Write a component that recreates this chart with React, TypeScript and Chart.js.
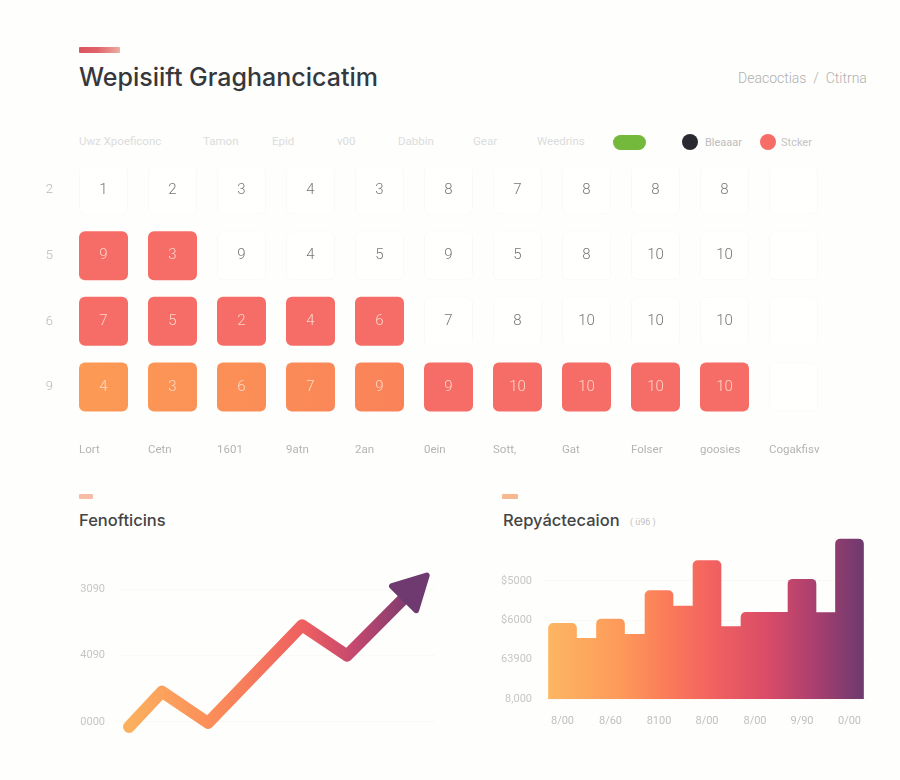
import React, { useEffect, useRef } from "react";
import { Chart, registerables } from "chart.js";

Chart.register(...registerables);

const FONT = "Roboto, 'Liberation Sans', sans-serif";
const HEAD_FONT = "Inter, 'Liberation Sans', sans-serif";

// ---------- heat grid ----------
const gridColumns = ["Lort", "Cetn", "1601", "9atn", "2an", "0ein", "Sott,", "Gat", "Folser", "goosies", "Cogakfisv"];
const gridRowLabels = ["2", "5", "6", "9"];
const gridValuesRow0 = [1, 2, 3, 4, 3, 8, 7, 8, 8, 8, null];
const gridValuesRow1 = [9, 3, 9, 4, 5, 9, 5, 8, 10, 10, null];
const gridValuesRow2 = [7, 5, 2, 4, 6, 7, 8, 10, 10, 10, null];
const gridValuesRow3 = [4, 3, 6, 7, 9, 9, 10, 10, 10, 10, null];
const gridToneRow0 = [0, 0, 0, 0, 0, 0, 0, 0, 0, 0, 0];
const gridToneRow1 = [1, 1, 0, 0, 0, 0, 0, 0, 0, 0, 0];
const gridToneRow2 = [1, 1, 1, 1, 1, 0, 0, 0, 0, 0, 0];
const gridToneRow3 = [2, 2, 2, 2, 2, 1, 1, 1, 1, 1, 0];
const gridValues = [gridValuesRow0, gridValuesRow1, gridValuesRow2, gridValuesRow3];
const gridTones = [gridToneRow0, gridToneRow1, gridToneRow2, gridToneRow3];

const topLabels = ["Uwz Xpoeficonc", "Tamon", "Epid", "v00", "Dabbin", "Gear", "Weedrins"];
const topLabelLefts = [79, 203, 272, 337, 398, 473, 537];

// ---------- line ----------
const lineX = [9, 42, 88, 182, 227, 282];
const lineY = [-300, 1820, -60, 5820, 4000, 7330];
const lineTicks = [0, 4000, 8000];
const lineTickLabels = ["0000", "4090", "3090"];

// ---------- bars ----------
const wideX = [17.5, 65.5, 114, 162, 210, 257, 304.5];
const wideY = [3920, 4030, 4750, 5510, 4200, 5040, 6060];
const narrowX = [41.7, 89.5, 138, 186, 233, 281];
const narrowY = [3540, 3640, 4360, 3840, 4200, 4190];
const barTicks = [2000, 3000, 4000, 5000];
const barTickLabels = ["8,000", "63900", "$6000", "$5000"];
const barXLabels = ["8/00", "8/60", "8100", "8/00", "8/00", "9/90", "0/00"];

const RED = "#f66c66";

const noPad = (s: any) => {
  s.paddingLeft = 0;
  s.paddingRight = 0;
  s.paddingTop = 0;
  s.paddingBottom = 0;
};

const cellTextPlugin = {
  id: "cellText",
  afterDatasetsDraw(chart: any) {
    const { ctx } = chart;
    ctx.save();
    ctx.textAlign = "center";
    ctx.textBaseline = "middle";
    ctx.font = `300 15px ${FONT}`;
    chart.data.datasets.forEach((_: any, r: number) => {
      chart.getDatasetMeta(r).data.forEach((el: any, c: number) => {
        const v = gridValues[r][c];
        if (v === null) return;
        const p = el.getCenterPoint();
        ctx.fillStyle = gridTones[r][c] === 0 ? "#777777" : "rgba(255,225,212,0.9)";
        ctx.fillText(String(v), p.x, p.y);
      });
    });
    ctx.restore();
  },
};

const arrowHeadPlugin = {
  id: "arrowHead",
  afterDatasetsDraw(chart: any) {
    const pts = chart.getDatasetMeta(0).data;
    const a = pts[pts.length - 2];
    const b = pts[pts.length - 1];
    const ang = Math.atan2(b.y - a.y, b.x - a.x);
    const { ctx } = chart;
    const len = 32;
    const half = 17;
    const inset = 3;
    ctx.save();
    ctx.translate(b.x, b.y);
    ctx.rotate(ang);
    ctx.beginPath();
    ctx.moveTo(inset, -half);
    ctx.lineTo(inset + len, 0);
    ctx.lineTo(inset, half);
    ctx.closePath();
    ctx.fillStyle = "#6e3a6f";
    ctx.strokeStyle = "#6e3a6f";
    ctx.lineJoin = "round";
    ctx.lineWidth = 6;
    ctx.fill();
    ctx.stroke();
    ctx.restore();
  },
};

function useChart(build: (c: HTMLCanvasElement) => any) {
  const ref = useRef<HTMLCanvasElement | null>(null);
  useEffect(() => {
    const chart = build(ref.current as HTMLCanvasElement);
    return () => chart.destroy();
  }, []);
  return ref;
}

function buildGrid(canvas: HTMLCanvasElement) {
  const half = 0.3735;
  return new Chart(canvas, {
    type: "bar",
    data: {
      labels: gridColumns,
      datasets: gridValues.map((vals, r) => ({
        label: gridRowLabels[r],
        data: vals.map(() => [r - half, r + half]),
        grouped: false,
        barPercentage: 49 / 69,
        categoryPercentage: 1,
        borderRadius: 6,
        borderSkipped: false,
        borderWidth: (ctx: any) => (gridTones[r][ctx.dataIndex] === 0 ? 1 : 0),
        borderColor: "#faf9f6",
        backgroundColor: (ctx: any) => {
          const tone = gridTones[r][ctx.dataIndex];
          if (tone === 0) return "#fffffe";
          if (tone === 1) return RED;
          const area = ctx.chart.chartArea;
          if (!area) return "#fb8f57";
          const g = ctx.chart.ctx.createLinearGradient(area.left + 10, 0, area.left + 334, 0);
          g.addColorStop(0, "#fc9b55");
          g.addColorStop(1, "#fa8259");
          return g;
        },
      })),
    } as any,
    options: {
      animation: false,
      responsive: false,
      layout: { padding: { top: 7.2, right: 12, left: 0, bottom: 0 } },
      plugins: { legend: { display: false }, tooltip: { enabled: false } },
      scales: {
        x: {
          grid: { display: false, drawTicks: false },
          border: { display: false },
          afterFit: (s: any) => { s.height = 40.2; noPad(s); },
          ticks: {
            autoSkip: false, maxRotation: 0, minRotation: 0,
            align: "start", labelOffset: -24.5, padding: 23,
            color: "#b4b4b4", font: { family: FONT, size: 11.5 },
          },
        },
        y: {
          type: "linear", reverse: true, min: -0.5, max: 3.5,
          grid: { display: false, drawTicks: false },
          border: { display: false },
          afterFit: (s: any) => { s.width = 39; noPad(s); },
          afterBuildTicks: (s: any) => { s.ticks = gridRowLabels.map((_, i) => ({ value: i })); },
          ticks: {
            padding: 16, color: "#b8b8b8", font: { family: FONT, size: 13, weight: 300 },
            callback: (v: any) => gridRowLabels[v],
          },
        },
      },
    } as any,
    plugins: [cellTextPlugin],
  });
}

function buildLine(canvas: HTMLCanvasElement) {
  return new Chart(canvas, {
    type: "line",
    data: {
      datasets: [{
        label: "Fenofticins",
        data: lineX.map((x, i) => ({ x, y: lineY[i] })),
        borderWidth: 12,
        borderCapStyle: "round",
        borderJoinStyle: "round",
        pointRadius: 0,
        tension: 0,
        fill: false,
        clip: false,
        borderColor: (ctx: any) => {
          const area = ctx.chart.chartArea;
          if (!area) return "#f9775a";
          const g = ctx.chart.ctx.createLinearGradient(area.left + 9, 0, area.left + 300, 0);
          g.addColorStop(0, "#fbb05f");
          g.addColorStop(0.3, "#fb8b59");
          g.addColorStop(0.6, "#ee5f60");
          g.addColorStop(0.78, "#c3476f");
          g.addColorStop(1, "#6e3a6f");
          return g;
        },
      }],
    } as any,
    options: {
      animation: false,
      responsive: false,
      layout: { padding: { top: 16, right: 15, bottom: 11.5, left: 0 } },
      plugins: { legend: { display: false }, tooltip: { enabled: false } },
      scales: {
        x: { type: "linear", display: false, min: 0, max: 315 },
        y: {
          type: "linear", min: -1000, max: 10000,
          grid: { color: "#faf9f6", drawTicks: false },
          border: { display: false },
          afterFit: (s: any) => { s.width = 60; noPad(s); },
          afterBuildTicks: (s: any) => { s.ticks = lineTicks.map((value) => ({ value })); },
          ticks: {
            padding: 15, color: "#c6c6c6", font: { family: FONT, size: 11 },
            callback: (v: any) => lineTickLabels[lineTicks.indexOf(v)],
          },
        },
      },
    } as any,
    plugins: [arrowHeadPlugin],
  });
}

function barGradient(ctx: any) {
  const area = ctx.chart.chartArea;
  if (!area) return "#f4655f";
  const g = ctx.chart.ctx.createLinearGradient(area.left + 3, 0, area.left + 318, 0);
  g.addColorStop(0, "#fdb662");
  g.addColorStop(0.23, "#fd9a5b");
  g.addColorStop(0.36, "#fb7f59");
  g.addColorStop(0.5, "#f4655f");
  g.addColorStop(0.7, "#d94b68");
  g.addColorStop(0.85, "#a83f6e");
  g.addColorStop(1, "#6e3a6f");
  return g;
}

function buildBars(canvas: HTMLCanvasElement) {
  return new Chart(canvas, {
    type: "bar",
    data: {
      datasets: [
        {
          label: "narrow",
          data: narrowX.map((x, i) => ({ x, y: narrowY[i] })),
          grouped: false,
          barThickness: 21,
          backgroundColor: barGradient,
          borderRadius: 0,
          borderSkipped: false,
          order: 2,
        },
        {
          label: "wide",
          data: wideX.map((x, i) => ({ x, y: wideY[i] })),
          grouped: false,
          barThickness: 28,
          backgroundColor: barGradient,
          borderSkipped: false,
          order: 1,
          borderRadius: (ctx: any) => ({
            topLeft: 5,
            topRight: ctx.dataIndex === 4 ? 0 : 5,
            bottomLeft: ctx.dataIndex === 0 ? 5 : 0,
            bottomRight: ctx.dataIndex === wideX.length - 1 ? 5 : 0,
          }),
        },
      ],
    } as any,
    options: {
      animation: false,
      responsive: false,
      layout: { padding: { top: 8.5, right: 13, bottom: 0, left: 0 } },
      plugins: { legend: { display: false }, tooltip: { enabled: false } },
      scales: {
        x: {
          type: "linear", min: 0, max: 322, offset: false,
          grid: { display: false, drawTicks: false },
          border: { display: false },
          afterFit: (s: any) => { s.height = 46; noPad(s); },
          afterBuildTicks: (s: any) => { s.ticks = wideX.map((value) => ({ value })); },
          ticks: {
            autoSkip: false, maxRotation: 0, minRotation: 0, padding: 16,
            color: "#c0c0c0", font: { family: FONT, size: 11 },
            callback: (v: any) => barXLabels[wideX.indexOf(v)],
          },
        },
        y: {
          type: "linear", min: 2000, max: 6200,
          grid: { color: "#faf9f6", drawTicks: false },
          border: { display: false },
          afterFit: (s: any) => { s.width = 65; noPad(s); },
          afterBuildTicks: (s: any) => { s.ticks = barTicks.map((value) => ({ value })); },
          ticks: {
            padding: 13, color: "#c6c6c6", font: { family: FONT, size: 11 },
            callback: (v: any) => barTickLabels[barTicks.indexOf(v)],
          },
        },
      },
    } as any,
  });
}

const abs = (left: number, top: number, w?: number, h?: number): React.CSSProperties => ({
  position: "absolute", left, top, width: w, height: h,
});

const Text = ({ x, y, size, color, weight = 400, family = FONT, children }: any) => (
  <div style={{
    position: "absolute", left: x, top: y, transform: "translateY(-50%)", whiteSpace: "nowrap",
    fontFamily: family, fontSize: size, color, fontWeight: weight, lineHeight: 1,
  }}>{children}</div>
);

export default function App() {
  const gridRef = useChart(buildGrid);
  const lineRef = useChart(buildLine);
  const barRef = useChart(buildBars);
  return (
    <div style={{ position: "absolute", left: 0, top: 0, width: 900, height: 780, overflow: "hidden", background: "#fefefc" }}>
      <div style={{ ...abs(79, 47, 41, 6), borderRadius: 1, background: "linear-gradient(90deg,#dc5560 0%,#e0626a 45%,#ecaea0 100%)" }} />
      <Text x={79} y={77} size={25} color="#35383c" weight={500} family={HEAD_FONT}>Wepisiift Graghancicatim</Text>
      <Text x={738} y={78} size={14} color="#b0b0b0" weight={300}>Deacoctias&nbsp; / &nbsp;Ctitrna</Text>

      {topLabels.map((t, i) => (
        <Text key={i} x={topLabelLefts[i]} y={142} size={11.5} color="#dcdcdc">{t}</Text>
      ))}
      <div style={{ ...abs(613, 135, 33, 15), borderRadius: 8, background: "#74b83c" }} />
      <div style={{ ...abs(682, 134, 16, 16), borderRadius: "50%", background: "#2a2b30" }} />
      <Text x={705} y={142} size={11} color="#bcbcbc">Bleaaar</Text>
      <div style={{ ...abs(760, 134, 16, 16), borderRadius: "50%", background: RED }} />
      <Text x={781} y={142} size={11} color="#c4c4c4">Stcker</Text>

      <canvas ref={gridRef} width={810} height={310} style={{ ...abs(30, 150, 810, 310), display: "block" }} />

      <div style={{ ...abs(79, 494, 14, 5), borderRadius: 1, background: "#f8bca6" }} />
      <Text x={79} y={520} size={16.5} color="#444444" weight={500} family={HEAD_FONT}>Fenofticins</Text>
      <canvas ref={lineRef} width={390} height={210} style={{ ...abs(60, 540, 390, 210), display: "block" }} />

      <div style={{ ...abs(502, 494, 16, 5), borderRadius: 1, background: "#f6b88e" }} />
      <Text x={503} y={520} size={16.5} color="#444444" weight={500} family={HEAD_FONT}>Repyáctecaion</Text>
      <Text x={630} y={522} size={9} color="#c0c0c0">( ü96 )</Text>
      <canvas ref={barRef} width={400} height={220} style={{ ...abs(480, 525, 400, 220), display: "block" }} />
    </div>
  );
}
